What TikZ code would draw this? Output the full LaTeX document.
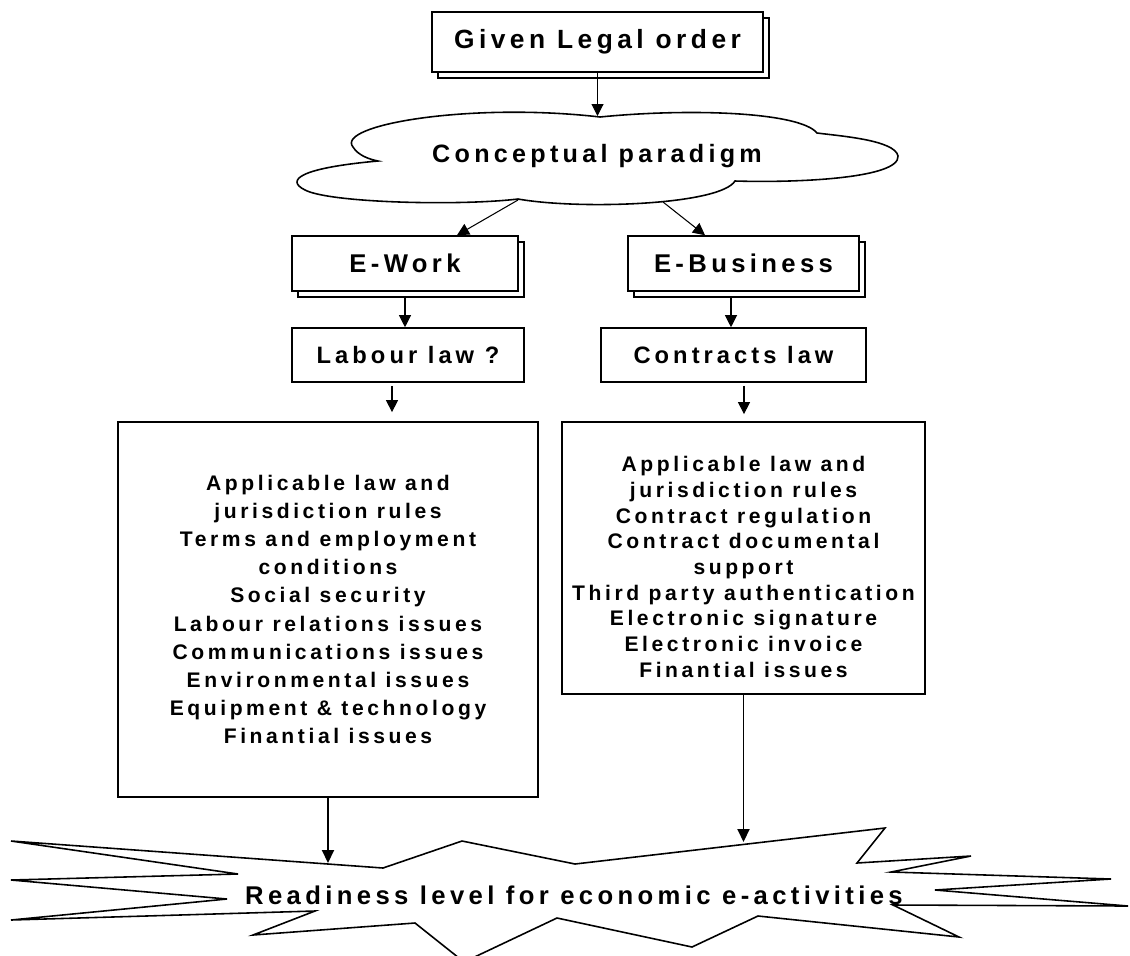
\documentclass[tikz,border=0pt]{standalone}
\usepackage{fontspec}
\setmainfont{Liberation Sans}[LetterSpace=17]
\usetikzlibrary{arrows.meta,shadows,calc}

\tikzset{
  raised/.style={rectangle, draw, line width=0.9pt, fill=white, inner sep=0pt,
    general shadow={shadow xshift=0.12cm, shadow yshift=-0.12cm, draw, fill=white, line width=0.9pt}},
  lawbox/.style={rectangle, draw, line width=0.9pt, inner sep=0pt, minimum height=1.08cm,
    font=\fontsize{13.5}{16}\selectfont\bfseries},
  issuebox/.style={rectangle, draw, line width=1pt, align=center, inner sep=0pt,
    font=\fontsize{12}{16}\selectfont\bfseries},
  link/.style={-{Triangle[length=0.24cm,width=0.24cm]}, line width=0.6pt},
  biglink/.style={-{Triangle[length=0.26cm,width=0.24cm]}, line width=1.1pt}
}

\begin{document}
\begin{tikzpicture}
\useasboundingbox (0,0) rectangle (22.6,-19.1);

% Place nodes
\node [raised, minimum width=6.62cm, minimum height=1.2cm, font=\fontsize{15}{18}\selectfont\bfseries] (legal) at (11.95,-0.84) {Given Legal order};

\draw [line width=0.9pt] (12.0,-2.34)
  .. controls (9.4,-2.04) and (6.7,-2.5) .. (7.06,-2.94)
  .. controls (7.16,-3.1) and (7.36,-3.18) .. (7.56,-3.22)
  .. controls (6.0,-3.36) and (5.7,-3.6) .. (6.1,-3.8)
  .. controls (6.6,-4.06) and (9.2,-4.12) .. (10.36,-3.98)
  .. controls (11.6,-4.2) and (14.4,-4.1) .. (14.7,-3.62)
  .. controls (16.0,-3.66) and (18.0,-3.56) .. (17.96,-3.12)
  .. controls (17.9,-2.8) and (16.8,-2.72) .. (16.34,-2.66)
  .. controls (16.0,-2.24) and (13.8,-2.16) .. (12.0,-2.34) -- cycle;
\node [font=\fontsize{14.3}{17}\selectfont\bfseries] (paradigm) at (11.94,-3.12) {Conceptual paradigm};
\coordinate (cloudtop) at (11.95,-2.32);
\coordinate (cloudleft) at (10.36,-4.0);
\coordinate (cloudright) at (13.26,-4.04);

\node [raised, minimum width=4.52cm, minimum height=1.1cm, font=\fontsize{14.6}{17}\selectfont\bfseries] (ework) at (8.1,-5.27) {E-Work};
\node [raised, minimum width=4.62cm, minimum height=1.1cm, font=\fontsize{14.6}{17}\selectfont\bfseries] (ebusiness) at (14.87,-5.27) {E-Business};

\node [lawbox, minimum width=4.64cm, below of=ework, node distance=1.83cm, xshift=0.06cm] (labour) {Labour law ?};
\node [lawbox, minimum width=5.3cm, below of=ebusiness, node distance=1.83cm, xshift=-0.2cm] (contracts) {Contracts law};

\node [issuebox, minimum width=8.4cm, minimum height=7.5cm] (worklist) at (6.56,-12.19) {Applicable law and\\ jurisdiction rules\\ Terms and employment\\ conditions\\ Social security\\ Labour relations issues\\ Communications issues\\ Environmental issues\\ Equipment \& technology\\ Finantial issues};
\node [issuebox, minimum width=7.26cm, minimum height=5.44cm, font=\fontsize{12}{14.6}\selectfont\bfseries] (buslist) at (14.87,-11.16) {\rule{0pt}{19pt}Applicable law and\\ jurisdiction rules\\ Contract regulation\\ Contract documental\\ support\\ Third party authentication\\ Electronic signature\\ Electronic invoice\\ Finantial issues};

% the star
\draw [line width=0.9pt] (0.22,-16.82) -- (7.66,-17.36) -- (9.24,-16.82) -- (11.5,-17.28) -- (17.7,-16.56)
  -- (17.14,-17.26) -- (19.42,-17.12) -- (17.82,-17.44) -- (22.22,-17.58) -- (18.7,-17.8)
  -- (22.56,-18.12) -- (17.86,-18.1) -- (19.18,-18.74) -- (15.16,-18.32) -- (13.84,-18.94)
  -- (11.14,-18.36) -- (9.28,-19.24) -- (8.3,-18.46) -- (5.06,-18.7) -- (6.3,-18.22)
  -- (0.22,-18.4) -- (4.54,-17.98) -- (0.22,-17.6) -- (4.76,-17.48) -- cycle;
\node [font=\fontsize{14.6}{17}\selectfont\bfseries] (readiness) at (11.48,-17.9) {Readiness level for economic e-activities};
\coordinate (starleft) at (6.56,-17.26);
\coordinate (starright) at (14.87,-16.84);

% Connectors
\draw [link] (legal) -- (cloudtop);
\draw [link] (cloudleft) -- ([xshift=1.04cm]ework.north);
\draw [link] (cloudright) -- ([xshift=-0.77cm]ebusiness.north);
\draw [link, shorten <=0.1cm] ([xshift=-0.06cm]labour.north |- ework.south) -- ([xshift=-0.06cm]labour.north);
\draw [link, shorten <=0.1cm] ([xshift=-0.25cm]ebusiness.south) -- ([xshift=-0.05cm]contracts.north);
\draw [link, shorten <=0.06cm, shorten >=0.18cm] ([xshift=-0.32cm]labour.south) -- ([xshift=-0.32cm]labour.south |- worklist.north);
\draw [link, shorten <=0.06cm, shorten >=0.14cm] ([xshift=0.21cm]contracts.south) -- ([xshift=0.21cm]contracts.south |- buslist.north);
\draw [biglink] (worklist) -- (starleft);
\draw [biglink] (buslist) -- (starright);
\end{tikzpicture}
\end{document}
